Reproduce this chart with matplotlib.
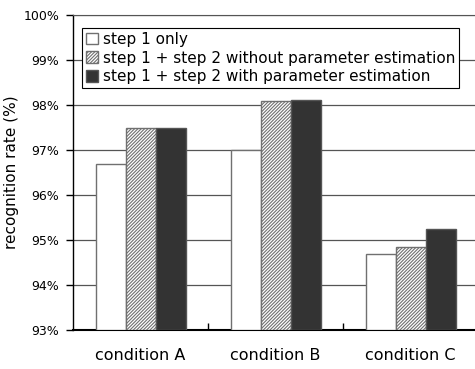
import numpy as np
import matplotlib
matplotlib.use("Agg")
import matplotlib.pyplot as plt
from matplotlib.ticker import FuncFormatter

plt.rcParams['font.family'] = ['DejaVu Sans']
plt.rcParams['hatch.color'] = '#4a4a4a'
plt.rcParams['hatch.linewidth'] = 0.8

# data
categories = ['condition A', 'condition B', 'condition C']
series = ['step 1 only',
          'step 1 + step 2 without parameter estimation',
          'step 1 + step 2 with parameter estimation']
step1_only = [96.68, 97.01, 94.68]
without_est = [97.50, 98.10, 94.85]
with_est = [97.50, 98.11, 95.24]

fig = plt.figure(figsize=(4.75, 3.69), dpi=100)
ax = fig.add_axes([73 / 475, 1 - 330 / 369, 405 / 475, 315 / 369])

x = np.arange(len(categories))
w = 90 / 135 / 3
styles = [dict(color='white', edgecolor='#707070', hatch=None),
          dict(color='white', edgecolor='#707070', hatch='/' * 10),
          dict(color='#333333', edgecolor='#555555', hatch=None)]
for i, (vals, st, lab) in enumerate(zip([step1_only, without_est, with_est], styles, series)):
    ax.bar(x + (i - 1) * w, np.array(vals) - 93, bottom=93, width=w,
           color=st['color'], edgecolor=st['edgecolor'], hatch=st['hatch'],
           linewidth=1.0, label=lab, zorder=3)

ax.set_xlim(-0.5, 2.5)
ax.set_ylim(93, 100)
ax.set_yticks(range(93, 101))
ax.yaxis.set_major_formatter(FuncFormatter(lambda v, p: f'{int(v)}%'))
ax.grid(axis='y', color='#555555', linewidth=0.9, zorder=0)
ax.set_xticks(x)
ax.set_xticklabels(categories, fontsize=11.5)
ax.tick_params(axis='x', length=0, pad=13)
ax.set_xticks([0.5, 1.5], minor=True)
ax.tick_params(axis='x', which='minor', direction='in', length=5, width=1, color='black')
ax.tick_params(axis='y', direction='out', length=5, width=1, labelsize=9, pad=5)
ax.set_ylabel('recognition rate (%)', fontsize=11, labelpad=3)

ax.spines['right'].set_visible(False)
ax.spines['top'].set_color('#555555')
ax.spines['left'].set_linewidth(1.0)
ax.spines['bottom'].set_linewidth(1.5)

leg = ax.legend(loc='upper left', bbox_to_anchor=(9 / 405, 1 - 13 / 315), fontsize=11,
                frameon=True, fancybox=False, edgecolor='black', framealpha=1,
                handlelength=0.8, handleheight=0.8, handletextpad=0.3,
                labelspacing=0.25, borderpad=0.25, borderaxespad=0)
leg.get_frame().set_linewidth(0.8)
leg.set_zorder(5)

fig.savefig('out.png', dpi=100)
